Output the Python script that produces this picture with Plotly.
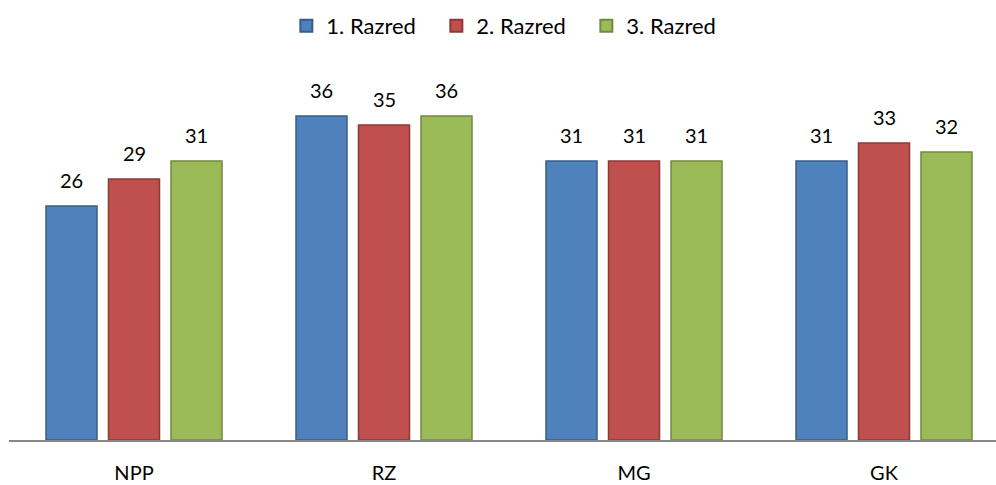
import plotly.graph_objects as go

categories = ["NPP", "RZ", "MG", "GK"]
series_names = ["1. Razred", "2. Razred", "3. Razred"]
razred1 = [26, 36, 31, 31]
razred2 = [29, 35, 31, 33]
razred3 = [31, 36, 31, 32]

fills = ["#4F81BD", "#C0504D", "#9BBB59"]
lines = ["#385D8A", "#8C3836", "#71893F"]

BARGAP = 0.25
n_series = 3
slot = (1 - BARGAP) / n_series

fig = go.Figure()
for j, (name, vals, fc, lc) in enumerate(zip(series_names, [razred1, razred2, razred3], fills, lines)):
    fig.add_trace(go.Bar(
        x=categories, y=vals, name=name,
        marker=dict(color=fc, line=dict(color=lc, width=1.5)),
        hoverinfo="x+y",
    ))
    for i, v in enumerate(vals):
        fig.add_annotation(
            x=i + (j - (n_series - 1) / 2) * slot, y=v, xref="x", yref="y",
            text=str(v), showarrow=False, yanchor="bottom", yshift=12,
            font=dict(size=20, color="#000000"),
        )

fig.update_layout(
    width=996, height=485,
    margin=dict(l=9, r=0, t=80, b=45, autoexpand=False),
    paper_bgcolor="white", plot_bgcolor="white",
    font=dict(family="Lato, Open Sans, sans-serif", size=20, color="#000000"),
    barmode="group", bargap=BARGAP, bargroupgap=0.184,
    showlegend=True,
    legend=dict(orientation="h", x=0.281, xanchor="left", y=0.99, yanchor="top",
                yref="container", font=dict(size=22), itemsizing="constant",
                itemwidth=30, entrywidth=105, entrywidthmode="pixels"),
)
fig.update_xaxes(showline=True, linecolor="#888888", linewidth=1.5, ticks="",
                 range=[-0.5, 3.448], tickfont=dict(size=20), ticklabelstandoff=14,
                 showgrid=False)
fig.update_yaxes(range=[0, 40], visible=False, showgrid=False)

fig.write_html("out.html", config={"displayModeBar": False},
               post_script="document.body.style.margin='0';")
